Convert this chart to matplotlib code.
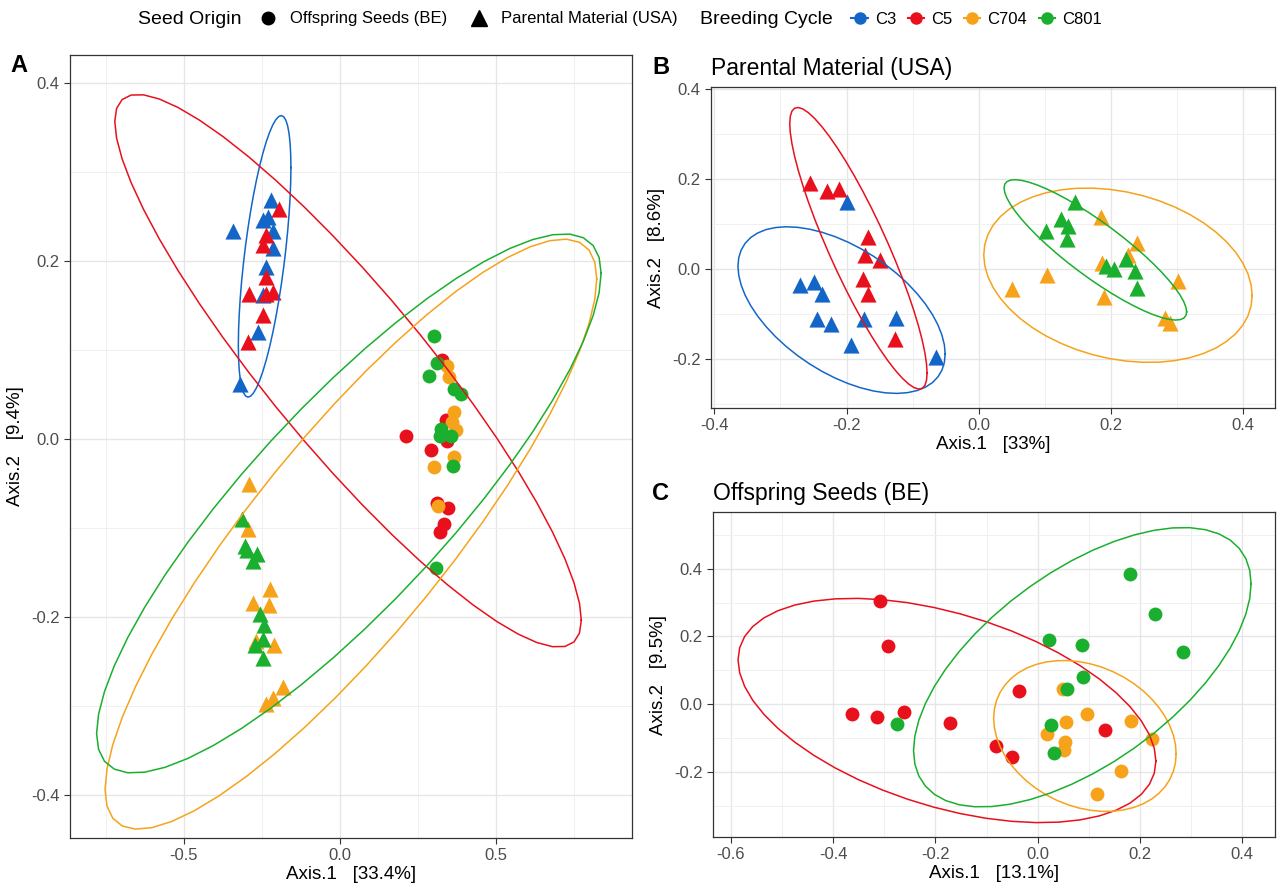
import numpy as np
import matplotlib
matplotlib.use("Agg")
import matplotlib.pyplot as plt
from matplotlib.lines import Line2D

plt.rcParams['font.family'] = ['Liberation Sans', 'DejaVu Sans']
plt.rcParams['axes.unicode_minus'] = False

cycles = ["C3", "C5", "C704", "C801"]
colors = {"C3": "#1366C8", "C5": "#E8101C", "C704": "#F7A21B", "C801": "#1AAF2E"}

# ---- panel A: all samples (triangles = parental USA, circles = offspring BE)
a_tri_c3 = [(-0.221, 0.268), (-0.342, 0.233), (-0.248, 0.246), (-0.232, 0.249), (-0.216, 0.233),
            (-0.216, 0.214), (-0.237, 0.193), (-0.248, 0.161), (-0.264, 0.120), (-0.321, 0.062)]
a_tri_c5 = [(-0.195, 0.258), (-0.237, 0.229), (-0.248, 0.218), (-0.237, 0.182), (-0.291, 0.163),
            (-0.237, 0.163), (-0.216, 0.165), (-0.248, 0.139), (-0.294, 0.109)]
a_tri_c704 = [(-0.293, -0.051), (-0.296, -0.101), (-0.224, -0.168), (-0.278, -0.184), (-0.229, -0.186),
              (-0.211, -0.231), (-0.269, -0.227), (-0.184, -0.278), (-0.216, -0.291), (-0.237, -0.298)]
a_tri_c801 = [(-0.315, -0.090), (-0.304, -0.120), (-0.298, -0.125), (-0.267, -0.129), (-0.280, -0.137),
              (-0.255, -0.197), (-0.245, -0.209), (-0.248, -0.225), (-0.272, -0.231), (-0.248, -0.246)]
a_dot_c5 = [(0.327, 0.089), (0.212, 0.003), (0.340, 0.021), (0.343, -0.002), (0.292, -0.013),
            (0.311, -0.072), (0.345, -0.077), (0.332, -0.095), (0.321, -0.105)]
a_dot_c704 = [(0.343, 0.082), (0.350, 0.070), (0.364, 0.030), (0.358, 0.019), (0.372, 0.010),
              (0.366, -0.020), (0.300, -0.031), (0.313, -0.075)]
a_dot_c801 = [(0.302, 0.116), (0.310, 0.085), (0.284, 0.071), (0.364, 0.056), (0.388, 0.050),
              (0.324, 0.011), (0.321, 0.003), (0.356, 0.003), (0.363, -0.030), (0.308, -0.145)]

# ---- panel B: parental material
b_tri_c3 = [(-0.199, 0.148), (-0.270, -0.037), (-0.250, -0.029), (-0.237, -0.057), (-0.245, -0.112),
            (-0.223, -0.124), (-0.174, -0.112), (-0.125, -0.109), (-0.194, -0.169), (-0.065, -0.197)]
b_tri_c5 = [(-0.255, 0.191), (-0.229, 0.173), (-0.212, 0.178), (-0.167, 0.070), (-0.172, 0.031),
            (-0.150, 0.020), (-0.175, -0.022), (-0.167, -0.057), (-0.126, -0.157)]
b_tri_c704 = [(0.185, 0.116), (0.239, 0.057), (0.226, 0.031), (0.186, 0.013), (0.103, -0.015),
              (0.050, -0.046), (0.189, -0.064), (0.302, -0.028), (0.282, -0.109), (0.289, -0.121)]
b_tri_c801 = [(0.145, 0.148), (0.125, 0.110), (0.135, 0.094), (0.101, 0.084), (0.134, 0.065),
              (0.222, 0.022), (0.192, 0.006), (0.205, 0.000), (0.236, -0.006), (0.240, -0.042)]

# ---- panel C: offspring seeds
c_dot_c5 = [(-0.308, 0.305), (-0.293, 0.172), (-0.363, -0.030), (-0.314, -0.039), (-0.262, -0.023),
            (-0.172, -0.057), (-0.082, -0.124), (-0.037, 0.038), (-0.050, -0.156), (0.132, -0.077)]
c_dot_c704 = [(0.050, 0.046), (0.096, -0.028), (0.055, -0.052), (0.183, -0.049), (0.019, -0.089),
              (0.053, -0.112), (0.051, -0.136), (0.224, -0.104), (0.162, -0.197), (0.116, -0.266)]
c_dot_c801 = [(-0.275, -0.058), (0.181, 0.384), (0.229, 0.265), (0.284, 0.153), (0.022, 0.191),
              (0.086, 0.175), (0.089, 0.081), (0.058, 0.046), (0.025, -0.062), (0.032, -0.146)]


def t_ellipse(pts, level=0.95, nu=5, segments=51):
    # same as ggplot2 stat_ellipse(type = "t"), MASS::cov.trob
    pts = np.asarray(pts, float)
    n, p = pts.shape
    loc = pts.mean(0)
    w = np.ones(n)
    for _ in range(25):
        w0 = w
        X = pts - loc
        _, d, vt = np.linalg.svd(np.sqrt(w / w.sum())[:, None] * X, full_matrices=False)
        wX = X @ vt.T @ np.diag(1 / d)
        Q = (wX ** 2).sum(1)
        w = (nu + p) / (nu + Q)
        loc = (w[:, None] * pts).sum(0) / w.sum()
        if np.all(np.abs(w - w0) < 0.01):
            break
    sw = np.sqrt(w)[:, None] * X
    cov = sw.T @ sw / n
    dfd = n - 1
    qf = dfd / 2 * (((1 - level) ** (-2 / dfd)) - 1)
    radius = np.sqrt(2 * qf)
    ang = np.linspace(0, 2 * np.pi, segments)
    circ = np.column_stack([np.cos(ang), np.sin(ang)])
    L = np.linalg.cholesky(cov)
    e = loc + radius * circ @ L.T
    return e[:, 0], e[:, 1]


def style(ax, xlim, ylim, xt, yt, xlab, ylab):
    ax.set_xticks(xt)
    ax.set_xticklabels([f"{v:.1f}" for v in xt])
    ax.set_yticks(yt)
    ax.set_yticklabels([f"{v:.1f}" for v in yt])
    ax.set_xticks([(a + b) / 2 for a, b in zip(xt[:-1], xt[1:])] + [xt[0] - (xt[1] - xt[0]) / 2, xt[-1] + (xt[1] - xt[0]) / 2], minor=True)
    ax.set_yticks([(a + b) / 2 for a, b in zip(yt[:-1], yt[1:])] + [yt[0] - (yt[1] - yt[0]) / 2, yt[-1] + (yt[1] - yt[0]) / 2], minor=True)
    ax.set_xlim(xlim)
    ax.set_ylim(ylim)
    ax.grid(True, which='major', color='#E6E6E6', lw=1.0)
    ax.grid(True, which='minor', color='#F0F0F0', lw=0.7)
    ax.set_axisbelow(True)
    ax.tick_params(which='minor', length=0)
    ax.tick_params(which='major', length=4, width=0.8, color='#333333', labelsize=12, labelcolor='#4D4D4D')
    for s in ax.spines.values():
        s.set_color('#333333')
        s.set_linewidth(0.9)
    ax.set_xlabel(xlab, fontsize=13.5, labelpad=2)
    ax.set_ylabel(ylab, fontsize=13.5, labelpad=5)


fig = plt.figure(figsize=(12.77, 8.88), dpi=100)
axA = fig.add_axes([0.0548, 0.0563, 0.4400, 0.8818])
axB = fig.add_axes([0.5568, 0.5405, 0.4416, 0.3615])
axC = fig.add_axes([0.5584, 0.0574, 0.4400, 0.3660])

tri = dict(marker='^', s=135, linewidths=0, zorder=3)
dot = dict(marker='o', s=100, linewidths=0, zorder=3)

# panel A
a_tri = {"C3": a_tri_c3, "C5": a_tri_c5, "C704": a_tri_c704, "C801": a_tri_c801}
a_dot = {"C3": [], "C5": a_dot_c5, "C704": a_dot_c704, "C801": a_dot_c801}
for c in cycles:
    if a_tri[c]:
        p = np.array(a_tri[c])
        axA.scatter(p[:, 0], p[:, 1], color=colors[c], **tri)
    if a_dot[c]:
        p = np.array(a_dot[c])
        axA.scatter(p[:, 0], p[:, 1], color=colors[c], **dot)
for c in cycles:
    ex, ey = t_ellipse(a_tri[c] + a_dot[c])
    axA.plot(ex, ey, color=colors[c], lw=1.1, zorder=4)
style(axA, (-0.865, 0.935), (-0.448, 0.431), [-0.5, 0.0, 0.5], [-0.4, -0.2, 0.0, 0.2, 0.4],
      "Axis.1   [33.4%]", "Axis.2   [9.4%]")

# panel B
b_tri = {"C3": b_tri_c3, "C5": b_tri_c5, "C704": b_tri_c704, "C801": b_tri_c801}
for c in cycles:
    p = np.array(b_tri[c])
    axB.scatter(p[:, 0], p[:, 1], color=colors[c], **tri)
for c in cycles:
    ex, ey = t_ellipse(b_tri[c])
    axB.plot(ex, ey, color=colors[c], lw=1.1, zorder=4)
style(axB, (-0.405, 0.448), (-0.31, 0.404), [-0.4, -0.2, 0.0, 0.2, 0.4], [-0.2, 0.0, 0.2, 0.4],
      "Axis.1   [33%]", "Axis.2   [8.6%]")
axB.set_title("Parental Material (USA)", loc='left', fontsize=16.5, pad=9)

# panel C
c_dot = {"C5": c_dot_c5, "C704": c_dot_c704, "C801": c_dot_c801}
for c in ["C5", "C704", "C801"]:
    p = np.array(c_dot[c])
    axC.scatter(p[:, 0], p[:, 1], color=colors[c], **dot)
for c in ["C5", "C704", "C801"]:
    ex, ey = t_ellipse(c_dot[c])
    axC.plot(ex, ey, color=colors[c], lw=1.1, zorder=4)
style(axC, (-0.635, 0.464), (-0.393, 0.568), [-0.6, -0.4, -0.2, 0.0, 0.2, 0.4], [-0.2, 0.0, 0.2, 0.4],
      "Axis.1   [13.1%]", "Axis.2   [9.5%]")
axC.set_title("Offspring Seeds (BE)", loc='left', fontsize=16.5, pad=9)

# panel letters
fig.text(10 / 1277, 1 - 66 / 888, "A", fontsize=17, fontweight='bold', va='center')
fig.text(652 / 1277, 1 - 67 / 888, "B", fontsize=17, fontweight='bold', va='center')
fig.text(652 / 1277, 1 - 493 / 888, "C", fontsize=17, fontweight='bold', va='center')

# legends on top
fig.text(138 / 1277, 1 - 19 / 888, "Seed Origin", fontsize=14, va='center')
h1 = [Line2D([], [], ls='none', marker='o', color='black', markersize=9),
      Line2D([], [], ls='none', marker='^', color='black', markersize=11)]
fig.legend(h1, ["Offspring Seeds (BE)", "Parental Material (USA)"], ncol=2, frameon=False,
           loc='center left', bbox_to_anchor=(250 / 1277, 1 - 19 / 888), fontsize=12,
           handlelength=1.2, handletextpad=0.7, columnspacing=1.3, borderpad=0)
fig.text(700 / 1277, 1 - 19 / 888, "Breeding Cycle", fontsize=14, va='center')
h2 = [Line2D([], [], color=colors[c], marker='o', markersize=8, lw=1.5) for c in cycles]
fig.legend(h2, cycles, ncol=4, frameon=False, loc='center left',
           bbox_to_anchor=(843 / 1277, 1 - 19 / 888), fontsize=12,
           handlelength=1.0, handletextpad=0.4, columnspacing=0.7, borderpad=0)

fig.savefig("out.png", dpi=100)
